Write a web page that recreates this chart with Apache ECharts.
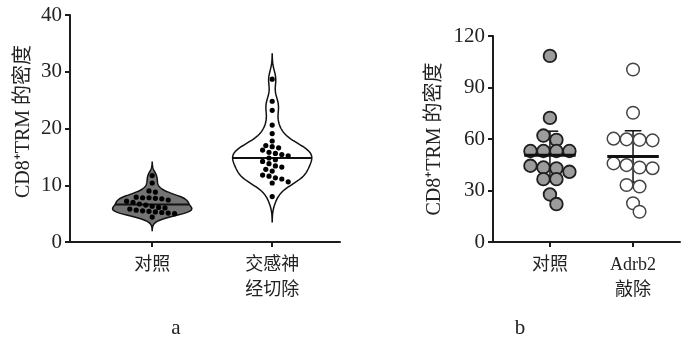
<!DOCTYPE html>
<html>
<head>
<meta charset="utf-8">
<script src="https://cdn.jsdelivr.net/npm/echarts@6/dist/echarts.min.js"></script>
<style>
  html, body { margin: 0; padding: 0; background: #fff; }
  #chart { width: 682px; height: 344px; }
</style>
</head>
<body>
<div id="chart"></div>
<script>
// ---- data -------------------------------------------------------------
const yAxisName = 'CD8\u207ATRM 的密度';

// panel a: violin plots
const categoriesA = ['对照', '交感神\n经切除'];
const controlA = [11.7, 10.4, 9.0, 8.8, 7.9, 7.8, 7.8, 7.7, 7.6, 7.4, 7.2, 7.0, 6.7,
                  6.5, 6.3, 6.1, 6.0, 5.8, 5.6, 5.5, 5.4, 5.3, 5.2, 5.1, 5.0, 4.4];
const sympathectomyA = [28.7, 24.8, 23.2, 20.6, 19.1, 17.8, 17.0, 16.8, 16.6, 16.2,
                        15.8, 15.6, 15.4, 15.2, 14.8, 14.5, 14.2, 13.8, 13.4, 13.2,
                        12.8, 12.5, 11.8, 11.6, 11.3, 11.1, 10.6, 10.4, 8.0];
const ticksA = [0, 10, 20, 30, 40];

// panel b: dot plots with mean and error bar
const categoriesB = ['对照', 'Adrb2\n敲除'];
const controlB = [108.4, 72.3, 62.0, 59.5, 53.0, 53.0, 53.0, 53.0,
                  44.4, 43.4, 42.9, 40.9, 36.6, 36.6, 27.7, 22.1];
const knockoutB = [100.5, 75.3, 60.2, 59.8, 59.5, 59.2, 45.8, 44.8,
                   43.4, 43.0, 33.2, 32.3, 22.6, 17.6];
const errorB = [14, 15];
const ticksB = [0, 30, 60, 90, 120];

// ---- layout -----------------------------------------------------------
const FONT = '"Liberation Serif", "Noto Sans CJK SC", serif';
const INK = '#1c1c1c';
const X_MIN = -0.685, X_MAX = 1.565;
const gridA = { left: 70, top: 15, width: 270, height: 227 };
const gridB = { left: 493, top: 36, width: 187, height: 206 };

// ---- helpers ----------------------------------------------------------
const mean = a => a.reduce((s, v) => s + v, 0) / a.length;
function quantile(a, q) {
  const s = a.slice().sort((x, y) => x - y);
  const pos = (s.length - 1) * q, i = Math.floor(pos), f = pos - i;
  return i + 1 < s.length ? s[i] + f * (s[i + 1] - s[i]) : s[i];
}
const median = a => quantile(a, 0.5);
function sd(a) {
  const m = mean(a);
  return Math.sqrt(a.reduce((s, v) => s + (v - m) * (v - m), 0) / (a.length - 1));
}

// Gaussian kernel density profile (Silverman bandwidth), peak normalised to 1
function densityProfile(vals) {
  const iqr = quantile(vals, 0.75) - quantile(vals, 0.25);
  const bw = 0.9 * Math.min(sd(vals), iqr / 1.34) * Math.pow(vals.length, -0.2);
  const lo = Math.min(...vals) - 3 * bw, hi = Math.max(...vals) + 3 * bw;
  const pts = [];
  const n = 140;
  for (let i = 0; i <= n; i++) {
    const v = lo + (hi - lo) * i / n;
    let d = 0;
    for (const x of vals) { const z = (v - x) / bw; d += Math.exp(-0.5 * z * z); }
    pts.push([v, d]);
  }
  const peak = Math.max(...pts.map(p => p[1]));
  return pts.map(p => [p[0], p[1] / peak]);
}
function widthAt(profile, v) {
  for (let i = 1; i < profile.length; i++) {
    if (profile[i][0] >= v) {
      const a = profile[i - 1], b = profile[i];
      const t = (v - a[0]) / (b[0] - a[0]);
      return a[1] + t * (b[1] - a[1]);
    }
  }
  return 0;
}

// Row-based dot layout: near-equal values share a centred row; a row is
// nudged sideways when it would overlap the rows already placed.
function dotRows(values, pxPerUnit, d, tol) {
  const order = values.map((v, i) => i).sort((a, b) => values[b] - values[a]);
  const rows = [];
  for (const i of order) {
    const last = rows[rows.length - 1];
    if (last && (last.top - values[i]) * pxPerUnit <= tol) last.idx.push(i);
    else rows.push({ top: values[i], idx: [i] });
  }
  const placed = [];
  const offs = new Array(values.length);
  const shifts = [0];
  for (let k = 1; k < 12; k++) shifts.push(k * d / 2, -k * d / 2);
  for (const row of rows) {
    const n = row.idx.length;
    for (const s of shifts) {
      const cand = row.idx.map((i, j) => ({ i, x: (j - (n - 1) / 2) * d + s, y: values[i] * pxPerUnit }));
      const ok = cand.every(c => placed.every(p => (p.x - c.x) ** 2 + (p.y - c.y) ** 2 >= (0.8 * d) ** 2));
      if (ok) {
        cand.forEach(c => { placed.push(c); offs[c.i] = c.x; });
        break;
      }
    }
  }
  return offs;
}

// ---- axes -------------------------------------------------------------
function xAxis(gridIndex, cats) {
  return {
    type: 'value', gridIndex, min: X_MIN, max: X_MAX,
    axisLine: { onZero: false, lineStyle: { color: INK, width: 2 } },
    axisTick: { customValues: [0, 1], length: 5, lineStyle: { color: INK, width: 2 } },
    axisLabel: {
      customValues: [0, 1], formatter: v => cats[Math.round(v)],
      fontFamily: FONT, fontSize: 18, lineHeight: 25, color: '#222', margin: 11
    },
    splitLine: { show: false }
  };
}
function yAxis(gridIndex, ticks, gap, pad) {
  return {
    type: 'value', gridIndex,
    min: ticks[0], max: ticks[ticks.length - 1], interval: ticks[1] - ticks[0],
    name: yAxisName, nameLocation: 'middle', nameRotate: 90, nameGap: gap,
    nameTextStyle: { fontFamily: FONT, fontSize: 20, color: '#222', padding: pad },
    axisLine: { show: true, onZero: false, lineStyle: { color: INK, width: 2 } },
    axisTick: { show: true, length: 5, lineStyle: { color: INK, width: 2 } },
    axisLabel: { fontFamily: FONT, fontSize: 21, color: '#222', margin: 8 },
    splitLine: { show: false }
  };
}

// ---- series: panel a --------------------------------------------------
const groupsA = [controlA, sympathectomyA];
const fillsA = ['#747474', '#ffffff'];
const profilesA = groupsA.map(densityProfile);
const HALF_W = 0.33;   // violin half width, x-axis units
const pxA = gridA.height / (ticksA[ticksA.length - 1] - ticksA[0]);

const violinSeries = {
  type: 'custom', xAxisIndex: 0, yAxisIndex: 0,
  data: groupsA.map((g, i) => [i, median(g)]),
  renderItem(params, api) {
    const cat = api.value(0), med = api.value(1);
    const prof = profilesA[cat];
    const right = prof.map(p => api.coord([cat + HALF_W * p[1], p[0]]));
    const left = prof.slice().reverse().map(p => api.coord([cat - HALF_W * p[1], p[0]]));
    const wm = HALF_W * widthAt(prof, med);
    const a = api.coord([cat - wm, med]), b = api.coord([cat + wm, med]);
    return {
      type: 'group',
      children: [
        { type: 'polygon', shape: { points: right.concat(left) },
          style: { fill: fillsA[cat], stroke: '#111', lineWidth: 1.5 } },
        { type: 'line', shape: { x1: a[0], y1: a[1], x2: b[0], y2: b[1] },
          style: { stroke: '#111', lineWidth: 2 } }
      ]
    };
  }
};

const dotsAData = [];
groupsA.forEach((g, gi) => {
  const offs = dotRows(g, pxA, 6.4, 3.2);
  g.forEach((v, k) => dotsAData.push([gi, v, offs[k]]));
});
const dotsASeries = {
  type: 'custom', xAxisIndex: 0, yAxisIndex: 0, data: dotsAData,
  renderItem(params, api) {
    const c = api.coord([api.value(0), api.value(1)]);
    return { type: 'circle', shape: { cx: c[0] + api.value(2), cy: c[1], r: 2.6 },
             style: { fill: '#000' } };
  }
};

// ---- series: panel b --------------------------------------------------
const groupsB = [controlB, knockoutB];
const pxB = gridB.height / (ticksB[ticksB.length - 1] - ticksB[0]);

const errorSeries = {
  type: 'custom', xAxisIndex: 1, yAxisIndex: 1,
  data: groupsB.map((g, i) => [i, mean(g), errorB[i]]),
  renderItem(params, api) {
    const cat = api.value(0), m = api.value(1), e = api.value(2);
    const top = api.coord([cat, m + e]), bot = api.coord([cat, m - e]);
    const capL = api.coord([cat - 0.1, 0])[0], capR = api.coord([cat + 0.1, 0])[0];
    const st = { stroke: '#111', lineWidth: 1.5 };
    return {
      type: 'group',
      children: [
        { type: 'line', shape: { x1: top[0], y1: top[1], x2: bot[0], y2: bot[1] }, style: st },
        { type: 'line', shape: { x1: capL, y1: top[1], x2: capR, y2: top[1] }, style: st },
        { type: 'line', shape: { x1: capL, y1: bot[1], x2: capR, y2: bot[1] }, style: st }
      ]
    };
  }
};

const dotsBData = [];
groupsB.forEach((g, gi) => {
  const offs = dotRows(g, pxB, 13, 7);
  g.forEach((v, k) => dotsBData.push([gi, v, offs[k]]));
});
const dotsBSeries = {
  type: 'custom', xAxisIndex: 1, yAxisIndex: 1, data: dotsBData,
  renderItem(params, api) {
    const cat = api.value(0);
    const c = api.coord([cat, api.value(1)]);
    const style = cat === 0
      ? { fill: '#9c9c9c', stroke: '#1e1e1e', lineWidth: 1.8 }
      : { fill: '#ffffff', stroke: '#444', lineWidth: 1.5 };
    return { type: 'circle', shape: { cx: c[0] + api.value(2), cy: c[1], r: 6.3 }, style };
  }
};

const meanSeries = {
  type: 'custom', xAxisIndex: 1, yAxisIndex: 1,
  data: groupsB.map((g, i) => [i, mean(g)]),
  renderItem(params, api) {
    const cat = api.value(0), m = api.value(1);
    const a = api.coord([cat - 0.31, m]), b = api.coord([cat + 0.31, m]);
    return { type: 'line', shape: { x1: a[0], y1: a[1], x2: b[0], y2: b[1] },
             style: { stroke: '#111', lineWidth: 3 } };
  }
};

// ---- chart ------------------------------------------------------------
const chart = echarts.init(document.getElementById('chart'), null, { renderer: 'canvas' });
chart.setOption({
  backgroundColor: '#ffffff',
  animation: false,
  grid: [gridA, gridB],
  xAxis: [xAxis(0, categoriesA), xAxis(1, categoriesB)],
  yAxis: [yAxis(0, ticksA, 36, [0, 0, 0, 14]), yAxis(1, ticksB, 48, 0)],
  series: [violinSeries, dotsASeries, errorSeries, dotsBSeries, meanSeries],
  graphic: [
    { type: 'text', x: 176, y: 328,
      style: { text: 'a', font: '21px ' + FONT, fill: '#222', textAlign: 'center', textVerticalAlign: 'middle' } },
    { type: 'text', x: 520, y: 328,
      style: { text: 'b', font: '21px ' + FONT, fill: '#222', textAlign: 'center', textVerticalAlign: 'middle' } }
  ]
});
</script>
</body>
</html>
